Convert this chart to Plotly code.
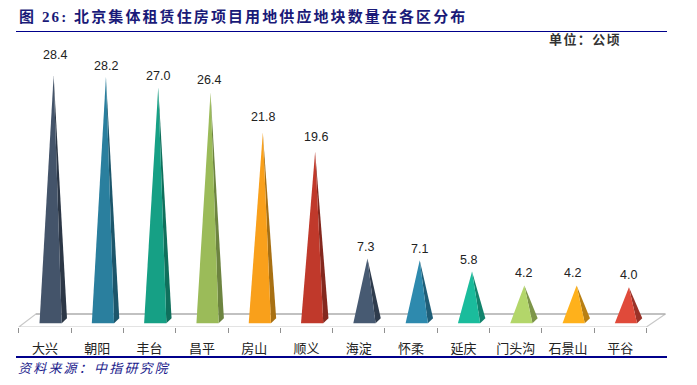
import plotly.graph_objects as go

categories = ["大兴", "朝阳", "丰台", "昌平", "房山", "顺义", "海淀", "怀柔", "延庆", "门头沟", "石景山", "平谷"]
values = [28.4, 28.2, 27.0, 26.4, 21.8, 19.6, 7.3, 7.1, 5.8, 4.2, 4.2, 4.0]
front_colors = ["#44546A", "#2A7F9E", "#16A085", "#9BBB59", "#F9A01B", "#C0392B",
                "#475A72", "#2E8AAE", "#1ABC9C", "#B3D66A", "#FFB11B", "#E04A3A"]
side_colors = ["#2C3746", "#1C566B", "#0F705C", "#6D8440", "#A87013", "#84281E",
               "#2F3C4D", "#1F5E77", "#12836C", "#7D9549", "#B87F13", "#9A3228"]
# manual label placement, px relative to each apex
label_dx = [1, 0, 0, -2, 0, 1, -2, 0, -4, -1, -4, 0]
label_dy = [20, 11, 11, 13, 16, 15, 12, 11, 12, 13, 13, 12]

W, H = 697, 385
PITCH = 52.3      # px per category
X0 = 45           # px of first category centre
UNIT = 8.69       # px per value unit
Y0 = 322          # px of value 0
BOTTOM = 327      # px of plot-area bottom

xr = [-X0 / PITCH, (W - X0) / PITCH]
yr = [(Y0 - BOTTOM) / UNIT, Y0 / UNIT]


def px(x):
    return x / W


def py(y):
    return (BOTTOM - y) / BOTTOM


LEFT, RIGHT, BACK, APEX = -0.105, 0.32, 0.42, 0.165
BASE_Y, BACK_Y = -0.13, 0.42

fig = go.Figure()

# floor of the 3-D plot
fx = [-0.5, -0.5 + 17 / PITCH, 11.5 + 19 / PITCH, 11.5, -0.5]
fy = [yr[0], 0.92, 0.92, yr[0], yr[0]]
fig.add_trace(go.Scatter(x=fx, y=fy, mode="lines", fill="toself", fillcolor="#FFFFFF",
                         line=dict(color="#C8C8C8", width=1.2), hoverinfo="skip", showlegend=False))
fig.add_trace(go.Scatter(x=fx[1:3], y=fy[1:3], mode="lines",
                         line=dict(color="#A0A0A0", width=1.2), hoverinfo="skip", showlegend=False))

for i, v in enumerate(values):
    fig.add_trace(go.Scatter(x=[i + RIGHT, i + BACK, i + APEX, i + RIGHT],
                             y=[BASE_Y, BACK_Y, v, BASE_Y],
                             mode="lines", fill="toself", fillcolor=side_colors[i],
                             line=dict(width=0), hoverinfo="skip", showlegend=False))
    fig.add_trace(go.Scatter(x=[i + LEFT, i + RIGHT, i + APEX, i + LEFT],
                             y=[BASE_Y, BASE_Y, v, BASE_Y],
                             mode="lines", fill="toself", fillcolor=front_colors[i],
                             line=dict(width=0), hoverinfo="skip", showlegend=False))

annotations = []
for i, v in enumerate(values):
    annotations.append(dict(x=i + APEX, y=v, xref="x", yref="y", text=f"{v:.1f}",
                            showarrow=False, xshift=label_dx[i], yshift=label_dy[i],
                            xanchor="center", yanchor="middle",
                            font=dict(family="Liberation Sans", size=12.5, color="#222222")))

SERIF = "Liberation Serif, Noto Sans CJK SC"
CJK = "Noto Sans CJK SC"
annotations += [
    dict(x=px(17), y=py(17), xref="paper", yref="paper", xanchor="left", yanchor="middle",
         showarrow=False, font=dict(family=SERIF, size=15, color="#1A1A78", weight="bold"),
         text='<span style="letter-spacing:2.1px">图 26: 北京集体租赁住房项目用地供应地块数量在各区分布</span>'),
    dict(x=px(547), y=py(39), xref="paper", yref="paper", xanchor="left", yanchor="middle",
         showarrow=False, font=dict(family=CJK, size=13, color="#333333", weight="bold"),
         text='<span style="letter-spacing:1.4px">单位：公顷</span>'),
    dict(x=px(16), y=py(367), xref="paper", yref="paper", xanchor="left", yanchor="middle",
         showarrow=False, font=dict(family=CJK, size=13, color="#1A1A8C", style="italic"),
         text='<span style="letter-spacing:2.2px">资料来源：中指研究院</span>'),
]

shapes = [
    dict(type="line", xref="paper", yref="paper", x0=px(16), x1=px(667), y0=py(31.5), y1=py(31.5),
         line=dict(color="#00008B", width=1)),
    dict(type="line", xref="paper", yref="paper", x0=px(16), x1=px(667), y0=py(357), y1=py(357),
         line=dict(color="#00008B", width=2)),
]

fig.update_layout(
    width=W, height=H, margin=dict(l=0, r=0, t=0, b=H - BOTTOM),
    paper_bgcolor="white", plot_bgcolor="white", showlegend=False,
    annotations=annotations, shapes=shapes,
    xaxis=dict(range=xr, tickmode="array", tickvals=list(range(len(categories))), ticktext=categories,
               ticks="outside", ticklen=9, tickcolor="rgba(0,0,0,0)", showgrid=False, zeroline=False,
               showline=False, tickangle=0,
               tickfont=dict(family=CJK, size=13, color="#222222"),
               minor=dict(tick0=-0.5, dtick=1, ticks="outside", ticklen=5, tickcolor="#909090", showgrid=False)),
    yaxis=dict(range=yr, visible=False, showgrid=False, zeroline=False),
)

fig.write_html("out.html", config=dict(displayModeBar=False),
               post_script="document.body.style.margin='0';")
